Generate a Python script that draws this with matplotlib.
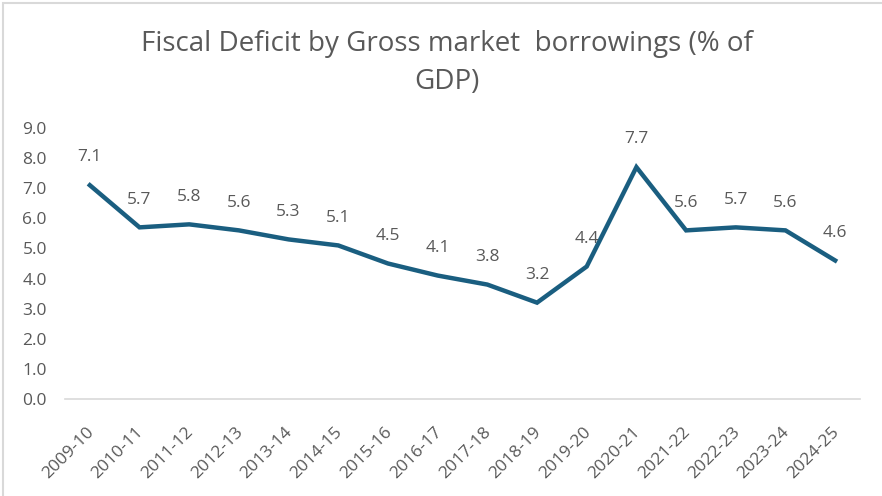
import matplotlib.pyplot as plt
from matplotlib.patches import Rectangle
from matplotlib.transforms import ScaledTranslation

years = ['2009-10', '2010-11', '2011-12', '2012-13', '2013-14', '2014-15',
         '2015-16', '2016-17', '2017-18', '2018-19', '2019-20', '2020-21',
         '2021-22', '2022-23', '2023-24', '2024-25']
deficit = [7.1, 5.7, 5.8, 5.6, 5.3, 5.1, 4.5, 4.1, 3.8, 3.2, 4.4, 7.7,
           5.6, 5.7, 5.6, 4.6]
yticks = [0.0, 1.0, 2.0, 3.0, 4.0, 5.0, 6.0, 7.0, 8.0, 9.0]

line_color = '#1a5e80'
text_color = '#595959'
plt.rcParams['font.family'] = ['Open Sans', 'DejaVu Sans']

fig = plt.figure(figsize=(8.82, 4.96), dpi=100)
ax = fig.add_axes([65 / 882, 1 - 399 / 496, (860 - 65) / 882, (399 - 128) / 496])

x = list(range(len(years)))
ax.plot(x, deficit, color=line_color, linewidth=3.2, solid_joinstyle='miter')
for xi, v in zip(x, deficit):
    ax.annotate(f'{v:.1f}', (xi, v), xytext=(0, 20), textcoords='offset points',
                ha='center', va='center', fontsize=12.5, color=text_color)

ax.set_xlim(-0.5, len(years) - 0.5)
ax.set_ylim(0, 9)
ax.set_yticks(yticks)
ax.set_yticklabels([f'{t:.1f}' for t in yticks], fontsize=12.5, color=text_color)
ax.set_xticks(x)
ax.set_xticklabels(years, rotation=45, ha='right', va='top', rotation_mode='anchor',
                   fontsize=12.5, color=text_color)
ax.tick_params(axis='both', length=0)
ax.tick_params(axis='y', pad=13)
ax.tick_params(axis='x', pad=18)

# nudge the slanted year labels a little to the left
shift = ScaledTranslation(-4 / 100, 0, fig.dpi_scale_trans)
for lbl in ax.get_xticklabels():
    lbl.set_transform(lbl.get_transform() + shift)

for side in ['top', 'right', 'left']:
    ax.spines[side].set_visible(False)
ax.spines['bottom'].set_color('#d9d9d9')
ax.spines['bottom'].set_linewidth(1.2)

fig.text(447 / 882, 1 - 63 / 496,
         'Fiscal Deficit by Gross market  borrowings (% of\nGDP)',
         ha='center', va='center', fontsize=20, color=text_color,
         linespacing=1.45)

# outer chart frame
fig.patches.append(Rectangle((3 / 882, -0.1), 1.2, 1 - 3 / 496 + 0.1,
                             transform=fig.transFigure, fill=False,
                             edgecolor='#d9d9d9', linewidth=1.5))

fig.savefig('out.png', dpi=100, facecolor='white')
